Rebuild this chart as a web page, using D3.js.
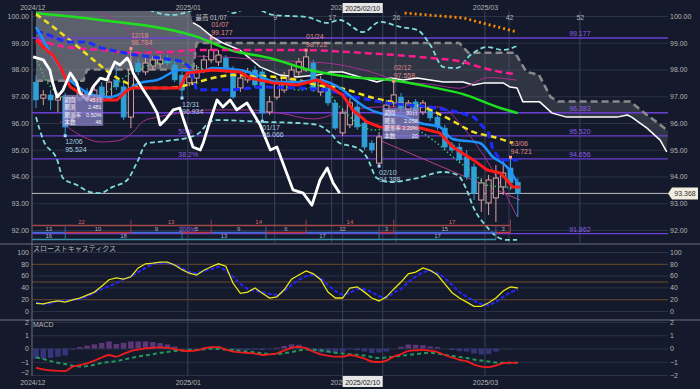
<!DOCTYPE html>
<html>
<head>
<meta charset="utf-8">
<script src="https://cdn.jsdelivr.net/npm/d3@7"></script>
<style>
  body { margin: 0; background: #141a2b; }
  svg { display: block; font-family: "Liberation Sans", Arial, sans-serif; }
</style>
</head>
<body>
<svg id="chart" width="700" height="389"></svg>
<script>
// ---- data (index = trading day from 2024/12/02) ----
// [open, high, low, close]
const candles = [
  [97.53, 97.79, 96.56, 96.86], [96.93, 97.23, 96.67, 97.05], [97.05, 97.23, 96.49, 96.86], [96.86, 97.16, 96.41, 96.97],
  [96.97, 97.12, 95.524, 95.85], [96.19, 97.01, 96.04, 96.93], [96.93, 97.31, 96.79, 97.16], [97.16, 97.31, 96.86, 97.01],
  [97.01, 97.42, 96.86, 97.23], [97.35, 97.53, 96.75, 96.86], [96.93, 97.68, 96.86, 97.53], [97.61, 98.17, 97.23, 97.35],
  [97.35, 97.53, 96.11, 96.22], [96.22, 98.784, 95.81, 97.98], [98.24, 98.43, 97.79, 97.91], [97.91, 98.43, 97.79, 98.24],
  [98.13, 98.50, 97.98, 98.36], [98.21, 98.54, 98.06, 98.36], [98.43, 98.54, 98.13, 98.24], [98.17, 98.36, 97.53, 97.61],
  [97.79, 97.91, 96.934, 97.23], [97.50, 97.91, 97.38, 97.72], [97.68, 98.17, 97.53, 97.98], [97.98, 98.54, 97.87, 98.36],
  [98.36, 99.177, 98.24, 98.73], [98.28, 98.73, 98.13, 98.54], [98.43, 98.54, 97.87, 97.98], [97.98, 98.13, 96.90, 96.97],
  [97.31, 97.83, 97.16, 97.68], [97.61, 98.06, 97.50, 97.91], [97.98, 98.13, 97.31, 97.42], [97.91, 98.06, 96.066, 96.37],
  [96.41, 97.01, 96.30, 96.79], [96.97, 97.68, 96.86, 97.50], [97.23, 97.91, 97.12, 97.72], [97.61, 98.13, 97.50, 97.98],
  [97.91, 98.43, 97.76, 98.28], [97.98, 98.722, 97.91, 98.47], [98.24, 98.36, 97.16, 97.23], [97.16, 97.76, 97.01, 97.61],
  [97.31, 97.46, 96.64, 96.75], [96.75, 96.86, 95.74, 95.81], [95.63, 96.56, 95.51, 96.37], [95.93, 96.93, 95.81, 96.75],
  [96.60, 96.86, 95.74, 95.85], [96.00, 96.11, 94.99, 95.10], [95.25, 95.36, 94.88, 94.99], [94.50, 95.66, 94.388, 95.48],
  [95.74, 96.86, 95.63, 96.67], [96.75, 97.558, 96.60, 97.05], [96.97, 97.12, 96.41, 96.56], [96.49, 96.86, 96.37, 96.75],
  [96.79, 96.90, 96.34, 96.49], [96.41, 96.86, 96.30, 96.75], [96.49, 96.64, 96.07, 96.19], [96.22, 96.37, 95.74, 95.85],
  [95.81, 95.93, 94.99, 95.10], [95.18, 95.29, 94.88, 94.99], [95.10, 95.25, 94.50, 94.62], [94.73, 94.99, 93.87, 93.98],
  [94.36, 94.50, 93.12, 93.38], [93.12, 93.94, 92.67, 93.76], [93.01, 94.06, 92.56, 93.87], [93.20, 94.43, 92.30, 93.94],
  [93.61, 94.62, 93.31, 94.13], [94.32, 94.721, 93.50, 93.76], [93.79, 93.94, 92.49, 93.368]
];
const lastPrice = 93.368;

// indicator lines: [index, price]
const smaLong = [[0,100.1],[8.8,99.85],[22.5,99.18],[26.6,98.73],[32,98.43],[37.5,97.98],[43,97.72],[48.5,97.61],[54,97.35],[58.5,97.08],[63.6,96.56],[66,96.37]];
const smaMid = [[0,100.07],[2.9,99.48],[5.6,98.88],[8.4,98.24],[10.5,97.79],[12.5,97.49],[14.7,97.31],[17.9,97.31],[20.7,97.42],[24.2,97.68],[27,97.79],[30.7,97.76],[35.8,97.61],[38.5,97.42],[41.6,97.31],[46.2,96.94],[49.5,96.75],[53,96.6],[56.3,96.19],[59.9,95.67],[63.2,95.44],[65.3,95.25]];
const kijun = [[0,99.38],[1,99.38],[4,99.03],[7,99.03],[9,98.8],[13,98.57],[17,98.43],[20,98.3],[21,98.1],[22,97.24],[27,97.24],[31,97.35],[36,97.31],[40,97.23],[43,97.0],[48,96.75],[54,96.6],[58,96.4],[60,96.22],[62,95.63],[62.6,95.0],[63.6,94.62],[66,94.62]];
const tenkan = [[0,99.1],[1,98.84],[2.3,98.54],[3.3,98.1],[4.7,97.35],[6,97.12],[7.4,96.86],[11.1,96.86],[12.5,97.23],[13.3,97.31],[19.7,97.31],[20.7,97.87],[24.2,97.98],[27.9,97.91],[29.3,97.68],[32.5,97.5],[35.8,97.42],[38.5,97.61],[40.3,97.35],[42,97.05],[43.4,96.49],[45.3,96.04],[47.1,95.85],[52.6,95.81],[55.3,95.63],[57.1,95.1],[59.9,94.62],[61.8,94.24],[63.6,94.13],[64.5,93.87],[65.3,93.61],[66.3,93.61]];
const emaShort = [[0,99.59],[1,99.1],[2.3,98.47],[4.2,97.72],[6,97.31],[7.8,97.05],[10.1,96.97],[12.5,97.23],[14.2,97.5],[16.6,97.61],[19.7,97.98],[22.5,97.91],[24.2,98.06],[27.9,97.98],[30.3,97.79],[33,97.53],[35.8,97.53],[38.5,97.61],[40.3,97.5],[42,97.24],[43.4,96.93],[45.3,96.56],[47.1,96.37],[50.8,96.22],[52.6,96.0],[55.3,95.85],[57.1,95.4],[60.8,95.25],[62.6,94.73],[64.5,94.36],[65.9,93.79]];
const smaPink = [[0,99.1],[4.2,98.84],[8.8,98.73],[13.3,98.62],[17.9,98.66],[22.5,98.73],[27,98.73],[35.8,98.73],[44.8,98.62],[54,98.43],[58.5,98.28],[60.8,98.09],[63.6,97.91],[65.6,97.83]];
const smaOrange = [[50.5,100.11],[58.5,99.93],[65.9,99.4]];
const dotGreen = [[0,98.47],[1.2,97.68],[2.9,97.12],[5.1,96.86],[7.4,96.86],[9.7,97.16],[12.5,97.79],[15.6,98.17],[18.8,98.28],[21.1,98.17],[23.8,97.98],[27.9,97.98],[32,97.61],[36.2,97.23],[38.9,97.42],[41.6,96.6],[46.2,95.74],[50.8,95.85],[54.4,95.36],[57.1,94.73],[59.9,94.13],[61.8,93.68],[63.6,93.61],[65.9,93.57]];
const bbUpper2 = [[10,101.2],[14.2,100.52],[15.6,100.22],[18.8,100.04],[20.7,100.15],[22.5,100.34],[24.8,100.49],[27,100.11],[29.3,100.34],[32.5,100.04],[37.1,99.96],[39.9,99.74],[41.6,99.85],[44.8,99.4],[47.1,99.78],[49.9,99.59],[52.2,99.48],[54,98.92],[55.8,98.09],[57.7,98.06],[59.5,98.54],[61.8,98.84],[64,98.73],[65.9,98.88]];
const bbLower2 = [[0,96.22],[1,95.36],[2.9,94.62],[3.7,93.94],[5.6,93.68],[7.4,93.42],[8.8,93.38],[10.5,93.61],[12.5,93.87],[13.8,94.5],[15.2,95.25],[16.6,95.29],[18.8,95.36],[20.7,95.44],[22.5,95.66],[23.6,96.0],[24.8,96.11],[31.1,96.04],[35.8,96.0],[38.5,95.93],[40.3,95.63],[41.6,95.25],[44,95.07],[45.3,94.73],[46.7,93.94],[48.5,93.79],[52.2,93.94],[55.8,94.17],[57.7,94.06],[59,93.5],[59.9,92.86],[61.8,92.11],[63.2,91.74],[64.5,91.63],[65.9,91.63]];
const bbUpper1 = [[8,100.3],[12,99.6],[15,98.9],[18,98.6],[22,98.5],[27,98.45],[31,98.35],[36,98.3],[41,98.2],[46,97.9],[50,97.55],[54,97.45],[58,97.3],[62,97.7],[65.9,97.6]];
const bbLower1 = [[3.3,96.07],[6.5,95.48],[8.8,95.29],[11.1,95.33],[13.3,95.66],[14.7,96.07],[16.6,96.22],[19.7,96.37],[24.2,96.49],[28.8,96.49],[33.4,96.37],[38,96.15],[42.3,96.45],[47.1,96.6],[51.2,96.6],[55.3,96.6],[58.6,95.8],[62.2,94.4],[65.9,92.5]];
const trendLine = [[47,95.36],[66.3,93.12]];
const spanA = [[0,100.3],[21,100.3],[21.5,99.75],[22.5,99.59],[24.2,99.21],[25.6,98.99],[27.9,98.73],[30.7,98.10],[33.4,97.79],[35.8,97.72],[38.5,97.79],[40.3,97.91],[42,97.91],[44.8,97.68],[46.7,97.53],[48.5,97.68],[50.3,97.61],[52.2,97.68],[54,97.61],[55.8,97.53],[58.5,97.53],[59.9,97.42],[61.5,97.5],[64,97.5],[64.9,97.35],[65.9,97.31],[66.7,96.79],[69,96.79],[70.7,96.37],[72.7,96.22],[79.6,96.22],[81,96.3],[81.6,96.22],[83.7,95.81],[85.5,95.36],[86.4,94.92]];
const spanB = [[0,97.58],[6.5,97.58],[7,98.0],[21.5,98.0],[22,98.99],[58,98.99],[59.2,98.63],[65.6,98.63],[67.2,97.91],[68.9,97.8],[70.5,96.97],[71.5,96.8],[81.4,96.8],[83.7,96.3],[85.4,95.96],[86.6,95.7]];
const chikou = [[-0.4,98.47],[1,98.36],[1.9,97.98],[2.3,97.5],[2.9,96.97],[3.7,97.23],[4.7,97.87],[5.6,97.5],[6,97.12],[7,96.86],[7.8,97.35],[8.8,97.68],[9.7,97.61],[10.1,97.87],[10.8,98.28],[11.5,98.17],[12.5,98.43],[12.9,98.24],[13.3,97.87],[14.7,97.23],[15.6,96.86],[16.6,96.37],[17,95.93],[17.7,96.11],[18.8,96.49],[19.7,96.56],[20.1,96.22],[20.7,95.74],[21.5,95.1],[22.5,94.99],[22.9,95.25],[23.8,96.04],[24.8,96.86],[25.6,96.6],[26.6,96.86],[27.5,96.49],[28.9,96.75],[30.7,95.93],[32.1,94.99],[33,95.1],[35.2,93.5],[36.6,93.38],[37.8,92.93],[38.9,93.87],[39.9,94.32],[40.7,93.76],[41.6,93.38]];

// fibonacci levels
const fibValues = [99.177, 96.383, 95.520, 94.656, 91.862];
const fibPct = ['0%', '', '50%', '38.2%', '100%'];

// swing highs / lows
const highs = [[13, 98.784, '12/18'], [24, 99.177, '01/07'], [37, 98.722, '01/24'], [49, 97.558, '02/12'], [65, 94.721, '03/06']];
const lows = [[4, 95.524, '12/06'], [20, 96.934, '12/31'], [31, 96.066, '01/17'], [47, 94.388, '02/10']];
const periodHigh = '最高 01/07';

// swing day counts: [from, to, label]
const countHighs = [[-0.5, 13, '22'], [13, 24, '13'], [24, 37, '14'], [37, 49, '14'], [49, 65, '17']];
const countLegs = [[-0.5, 4, '13'], [4, 13, '10'], [13, 20, '9'], [20, 24, '5'], [24, 31.5, '9'], [31.5, 37, '6'], [37, 47, '12'], [47, 49, '3'], [49, 63, '15'], [63, 65, '3']];
const countLows = [[-0.5, 4, '16'], [4, 20, '18'], [20, 31.5, '13'], [31.5, 47, '17'], [47, 63, '17']];

// range info boxes
const infoLabels = ['期間', '騰落', '騰落率', '本数'];
const info1 = ['45日', '2.481', '0.50%', '46'];
const info2 = ['30日', '2.058', '2.20%', '20'];

// slow stochastics
const stochK = [13,12,15,17,15,19,22,27,32,42,53,56,54,58,73,80,81,83,83,78,70,64,61,69,75,80,76,47,30,32,39,30,22,24,36,54,61,68,63,53,32,22,22,39,41,32,22,17,24,37,49,63,66,73,69,61,46,31,22,15,8,8,14,22,34,41,39];
const stochD = [14,12,13,17,17,19,20,25,31,37,42,47,54,58,66,73,80,81,81,78,73,66,64,68,71,75,69,58,46,37,34,32,29,27,34,44,53,59,61,56,44,34,27,31,37,37,32,25,22,31,37,49,58,66,68,64,56,44,32,24,17,12,10,15,24,32,36];

// MACD
const macd = [-1.44,-1.58,-1.65,-1.69,-1.7,-1.38,-1.25,-1.12,-0.92,-0.68,-0.49,-0.61,-0.4,-0.19,-0.08,0.01,0.05,0.09,0.04,-0.04,-0.15,-0.19,-0.14,0,0.11,0.1,-0.08,-0.24,-0.29,-0.34,-0.38,-0.49,-0.45,-0.36,-0.15,0.04,0.13,0,-0.23,-0.44,-0.54,-0.62,-0.62,-0.49,-0.61,-0.76,-0.98,-1.02,-0.91,-0.61,-0.42,-0.19,-0.14,-0.11,-0.17,-0.27,-0.49,-0.68,-0.85,-0.95,-1.21,-1.36,-1.4,-1.29,-1.1,-1.06,-1.08];
const signal = [-0.66,-0.8,-0.95,-1.08,-1.17,-1.3,-1.36,-1.33,-1.23,-1.1,-1.02,-0.95,-0.83,-0.72,-0.61,-0.52,-0.44,-0.32,-0.27,-0.19,-0.15,-0.12,-0.11,-0.06,-0.02,-0.04,-0.08,-0.11,-0.17,-0.23,-0.29,-0.36,-0.42,-0.42,-0.34,-0.27,-0.15,-0.08,-0.1,-0.14,-0.23,-0.32,-0.38,-0.44,-0.48,-0.53,-0.64,-0.72,-0.68,-0.61,-0.55,-0.49,-0.42,-0.36,-0.32,-0.38,-0.49,-0.57,-0.64,-0.72,-0.83,-0.91,-0.98,-1.06,-1.08,-1.08,-1.08];
const histo = [-0.78,-0.78,-0.7,-0.61,-0.53,-0.08,0.11,0.21,0.31,0.42,0.53,0.34,0.43,0.53,0.53,0.53,0.49,0.41,0.31,0.15,0,-0.07,-0.03,0.06,0.13,0.14,0,-0.13,-0.12,-0.11,-0.09,-0.13,-0.03,0.06,0.19,0.31,0.28,0.08,-0.13,-0.3,-0.31,-0.3,-0.24,-0.05,-0.13,-0.23,-0.34,-0.3,-0.23,0,0.13,0.3,0.28,0.25,0.15,0.11,0,-0.11,-0.21,-0.23,-0.38,-0.45,-0.42,-0.23,-0.02,0.02,0];

// time axis
const monthTicks = [-0.5, 20.8, 42, 61.5];
const monthLabels = ['2024/12', '2025/01', '2025/02', '2025/03'];
const numTicks = [32.7, 40.5, 49.3, 64.8, 74.5];
const numLabels = ['9', '17', '26', '42', '52'];
const cursorIndex = 47.5;
const cursorLabel = '2025/02/10';

const priceTicks = [92, 93, 94, 95, 96, 97, 98, 99, 100];
const stochTicks = [0, 20, 40, 60, 80, 100];
const macdTicks = [-2, -1, 0, 1, 2];

// ---- drawing ----
const svg = d3.select('#chart');
const left = 32, right = 668;
const textColor = '#b4b4b4';

const x = d3.scaleLinear().domain([0, 66]).range([36, 517.8]);
const y = d3.scaleLinear().domain([92, 100]).range([230, 16]);
const yS = d3.scaleLinear().domain([0, 100]).range([311, 252]);
const yM = d3.scaleLinear().domain([-2, 2]).range([375, 322]);
const step = x(1) - x(0);
const boxL = x(42), boxR = x(cursorIndex);

svg.append('rect').attr('width', 700).attr('height', 389).attr('fill', '#141a2b');

const defs = svg.append('defs');
defs.append('clipPath').attr('id', 'mainClip').append('rect')
  .attr('x', left).attr('y', 11).attr('width', right - left).attr('height', 232);
defs.append('clipPath').attr('id', 'cloudLight').append('rect')
  .attr('x', left).attr('y', 11).attr('width', x(25.6) - left).attr('height', 232);
defs.append('clipPath').attr('id', 'cloudDark').append('rect')
  .attr('x', x(25.6)).attr('y', 11).attr('width', right - x(25.6)).attr('height', 232);
// month labels are partly hidden behind the cursor date box
const mc = defs.append('clipPath').attr('id', 'monthClip');
mc.append('rect').attr('x', 0).attr('y', 0).attr('width', boxL).attr('height', 389);
mc.append('rect').attr('x', boxR).attr('y', 0).attr('width', 700 - boxR).attr('height', 389);

// horizontal grids
function hGrid(scale, ticks, color) {
  svg.append('g')
    .attr('transform', `translate(${left},0)`)
    .call(d3.axisRight(scale).tickValues(ticks).tickSize(right - left).tickFormat(''))
    .call(g => g.select('.domain').remove())
    .selectAll('line').attr('stroke', color).attr('stroke-width', 1);
}
hGrid(y, priceTicks, '#2a3246');
hGrid(yS, [0, 40, 60, 100], '#2a3246');
hGrid(yS, [20, 50, 80], '#6b4a2a');
hGrid(yM, macdTicks, '#2a3246');

// vertical grids
const mainV = monthTicks.slice(1).concat(numTicks, [cursorIndex]);
svg.append('g').selectAll('line').data(mainV).join('line')
  .attr('x1', d => x(d)).attr('x2', d => x(d)).attr('y1', 11).attr('y2', 243)
  .attr('stroke', '#39415a').attr('stroke-width', 1);
const subV = monthTicks.slice(1).concat([cursorIndex]);
svg.append('g').selectAll('line').data(subV).join('line')
  .attr('x1', d => x(d)).attr('x2', d => x(d)).attr('y1', 245).attr('y2', 376)
  .attr('stroke', '#39415a').attr('stroke-width', 1);

// separators
[[0, 700, 244, 244], [0, 700, 320, 320], [left, left, 11, 376]].forEach(s => {
  svg.append('line').attr('x1', s[0]).attr('x2', s[1]).attr('y1', s[2]).attr('y2', s[3])
    .attr('stroke', '#6c7080').attr('stroke-width', 1);
});

// axis labels
function axisText(axis, tx, fmt, ticks, scale) {
  const g = svg.append('g').attr('transform', `translate(${tx},0)`)
    .call(axis(scale).tickValues(ticks).tickSize(0).tickPadding(2).tickFormat(fmt));
  g.select('.domain').remove();
  g.selectAll('text').attr('fill', textColor).style('font-size', '7px')
    .style('font-family', '"Liberation Sans", Arial, sans-serif');
}
axisText(d3.axisLeft, 31, d3.format('.2f'), priceTicks, y);
axisText(d3.axisRight, 668, d3.format('.2f'), priceTicks, y);
axisText(d3.axisLeft, 31, d3.format('d'), stochTicks, yS);
axisText(d3.axisRight, 668, d3.format('d'), stochTicks, yS);
axisText(d3.axisLeft, 31, d3.format('d'), macdTicks.slice(1), yM);
axisText(d3.axisRight, 668, d3.format('d'), macdTicks, yM);
// lowest MACD label sits just above the date row
svg.append('text').attr('x', 29).attr('y', yM(-2) - 0.5).attr('text-anchor', 'end')
  .attr('fill', textColor).style('font-size', '7px').text(d3.format('d')(macdTicks[0]));

// time labels top & bottom
[9.5, 384.5].forEach(ty => {
  const g = svg.append('g').attr('clip-path', 'url(#monthClip)')
    .append('g').attr('transform', `translate(0,${ty})`)
    .call(d3.axisTop(x).tickValues(monthTicks).tickSize(0).tickPadding(0).tickFormat((d, i) => monthLabels[i]));
  g.select('.domain').remove();
  g.selectAll('text').attr('fill', textColor).style('font-size', '7px');
});
const gNum = svg.append('g').attr('transform', 'translate(0,20)')
  .call(d3.axisTop(x).tickValues(numTicks).tickSize(0).tickPadding(0).tickFormat((d, i) => numLabels[i]));
gNum.select('.domain').remove();
gNum.selectAll('text').attr('fill', textColor).style('font-size', '7px');
svg.append('text').attr('x', x(24)).attr('y', 20).attr('text-anchor', 'middle')
  .attr('fill', '#c8c8c8').style('font-size', '6.5px')
  .style('font-family', '"Noto Sans CJK JP", sans-serif').text(periodHigh);

// cursor date boxes
[[3, 13], [376, 387]].forEach(([t, b]) => {
  svg.append('rect').attr('x', boxL).attr('y', t).attr('width', boxR - boxL).attr('height', b - t)
    .attr('fill', '#e6e6e6');
  svg.append('text').attr('x', (boxL + boxR) / 2).attr('y', b - 2.5)
    .attr('text-anchor', 'middle').attr('fill', '#222').style('font-size', '7px').text(cursorLabel);
});

// ---- main panel ----
const main = svg.append('g').attr('clip-path', 'url(#mainClip)');
const line = d3.line().x(d => x(d[0])).y(d => y(d[1]));
const smooth = d3.line().x(d => x(d[0])).y(d => y(d[1])).curve(d3.curveMonotoneX);

// cloud
const cloud = line(spanA.concat(spanB.slice().reverse())) + 'Z';
main.append('path').attr('d', cloud).attr('fill', '#a4a6ae').attr('fill-opacity', 0.5)
  .attr('clip-path', 'url(#cloudLight)');
main.append('path').attr('d', cloud).attr('fill', '#5c606c').attr('fill-opacity', 0.38)
  .attr('clip-path', 'url(#cloudDark)');

function draw(data, gen, color, width, dash) {
  main.append('path').datum(data).attr('fill', 'none').attr('stroke', color)
    .attr('stroke-width', width).attr('stroke-dasharray', dash || null)
    .attr('stroke-linejoin', 'round').attr('d', gen);
}

// fibonacci
main.append('g').selectAll('line').data(fibValues).join('line')
  .attr('x1', left).attr('x2', right).attr('y1', d => y(d)).attr('y2', d => y(d))
  .attr('stroke', '#6b3fd6').attr('stroke-width', 1.3);
main.append('g').selectAll('text').data(fibValues).join('text')
  .attr('x', x(74.5)).attr('y', d => y(d) - 2).attr('text-anchor', 'middle')
  .attr('fill', '#8e5ce6').style('font-size', '7px').text(d => d3.format('.3f')(d));
main.append('g').selectAll('text').data(fibValues).join('text')
  .attr('x', x(19.5)).attr('y', d => y(d) - 2)
  .attr('fill', '#8e5ce6').style('font-size', '7px').text((d, i) => fibPct[i]);

// current price line
main.append('line').attr('x1', left).attr('x2', right).attr('y1', y(lastPrice)).attr('y2', y(lastPrice))
  .attr('stroke', '#bdbdbd').attr('stroke-width', 1);

draw(spanB, line, '#8a8a8a', 2.5, '7,4');
draw(spanA.slice(2), line, '#ffffff', 1.5);
draw(bbUpper1, smooth, '#a5308f', 1);
draw(bbLower1, smooth, '#a5308f', 1);
draw(trendLine, line, '#b0408f', 1);
draw(bbUpper2, smooth, '#7fdcdc', 1.8, '5,3');
draw(bbLower2, smooth, '#7fdcdc', 1.8, '5,3');

// candles
const cg = main.append('g');
candles.forEach((c, i) => {
  const up = c[3] >= c[0];
  const col = up ? '#d7a3a0' : '#2f9fd6';
  cg.append('line').attr('x1', x(i)).attr('x2', x(i)).attr('y1', y(c[1])).attr('y2', y(c[2]))
    .attr('stroke', col).attr('stroke-width', 1);
  cg.append('rect').attr('x', x(i) - step * 0.35).attr('width', step * 0.7)
    .attr('y', y(Math.max(c[0], c[3]))).attr('height', Math.max(1, Math.abs(y(c[0]) - y(c[3]))))
    .attr('fill', up ? '#141a2b' : col).attr('stroke', col).attr('stroke-width', up ? 1 : 0.5);
});

draw(dotGreen, smooth, '#2ecc71', 1.4, '1.5,2.5');
draw(smaLong, smooth, '#1fe01f', 2.5);
draw(smaPink, smooth, '#ff1b8d', 2.5, '7,4');
draw(smaOrange, line, '#ff8c00', 2.8, '2,3');
draw(smaMid, smooth, '#f2e21c', 2.5, '6,4');
draw(kijun, line, '#1a2cff', 3, '7,4');
draw(emaShort, smooth, '#1e90ff', 2.5);
draw(tenkan, line, '#ff1a1a', 3);
draw(chikou, line, '#ffffff', 2.8);

// swing markers and labels
function swing(data, isHigh) {
  const col = isHigh ? '#e08a8a' : '#a9cbe0';
  data.forEach(([i, v, d]) => {
    main.append('rect').attr('x', x(i) - 1.5).attr('y', y(v) - 1.5).attr('width', 3).attr('height', 3)
      .attr('fill', isHigh ? '#ff9090' : '#a6dcff');
    const b1 = isHigh ? y(v) - 11 : y(v) + 8.5;
    [d, d3.format('.3f')(v)].forEach((t, k) => {
      main.append('text').attr('x', x(i)).attr('y', b1 + k * 7.5)
        .attr('fill', col).style('font-size', '7px').text(t);
    });
  });
}
swing(highs, true);
swing(lows, false);

// info boxes
function infoBox(i0, i1, top, values) {
  const bx = x(i0), bw = x(i1) - x(i0), by = y(top);
  main.append('rect').attr('x', bx).attr('y', by).attr('width', bw).attr('height', 31)
    .attr('fill', '#8f86d0').attr('fill-opacity', 0.72);
  infoLabels.forEach((l, k) => {
    main.append('text').attr('x', bx + 1.5).attr('y', by + 7 + k * 7.5).attr('fill', '#f4f4f4')
      .style('font-size', '5.5px').style('font-family', '"Noto Sans CJK JP", sans-serif').text(l);
    main.append('text').attr('x', bx + bw - 1.5).attr('y', by + 7 + k * 7.5).attr('text-anchor', 'end')
      .attr('fill', '#f4f4f4').style('font-size', '5.5px').text(values[k]);
  });
}
infoBox(3.7, 9.2, 97.05, info1);
infoBox(47.5, 52.5, 96.56, info2);

// swing counts rows
function countRow(rows, ly, colorFn, textCol) {
  const g = main.append('g');
  rows.forEach(([a, b, t], k) => {
    const c = colorFn(k);
    g.append('line').attr('x1', x(a)).attr('x2', x(b)).attr('y1', ly).attr('y2', ly)
      .attr('stroke', c).attr('stroke-width', 1.5);
    g.append('line').attr('x1', x(b)).attr('x2', x(b)).attr('y1', ly - 6).attr('y2', ly)
      .attr('stroke', c).attr('stroke-width', 0.8);
    g.append('text').attr('x', (x(a) + x(b)) / 2).attr('y', ly - 1.5).attr('text-anchor', 'middle')
      .attr('fill', textCol || c).style('font-size', '6px').text(t);
  });
}
countRow(countHighs, 225.5, () => '#a44848', '#d46a6a');
countRow(countLegs, 232.5, k => (k % 2 ? '#c23b3b' : '#3f6fd0'), '#a8a8c0');
countRow(countLows, 239.5, () => '#3a92aa', '#9ab8c8');

// current price tag
svg.append('path').attr('d', `M${right},${y(lastPrice)} l4,-6 h26 v12 h-26 z`).attr('fill', '#f2ede0');
svg.append('text').attr('x', right + 17).attr('y', y(lastPrice) + 2.5).attr('text-anchor', 'middle')
  .attr('fill', '#333').style('font-size', '7px').text(d3.format('.3f')(lastPrice));

// ---- stochastics ----
svg.append('text').attr('x', 33).attr('y', 251).attr('fill', textColor).style('font-size', '7px')
  .style('font-family', '"Noto Sans CJK JP", sans-serif').text('スローストキャスティクス');
const sLine = d3.line().x((d, i) => x(i)).y(d => yS(d));
svg.append('path').datum(stochD).attr('fill', 'none').attr('stroke', '#2424ff').attr('stroke-width', 2)
  .attr('stroke-dasharray', '4,2').attr('d', sLine);
svg.append('path').datum(stochK).attr('fill', 'none').attr('stroke', '#e8e81a').attr('stroke-width', 1.3)
  .attr('d', sLine);

// ---- MACD ----
svg.append('text').attr('x', 33).attr('y', 327).attr('fill', textColor).style('font-size', '7px').text('MACD');
svg.append('g').selectAll('rect').data(histo).join('rect')
  .attr('x', (d, i) => x(i) - step * 0.38).attr('width', step * 0.76)
  .attr('y', d => Math.min(yM(0), yM(d))).attr('height', d => Math.abs(yM(d) - yM(0)))
  .attr('fill', d => (d >= 0 ? '#6a3c86' : '#3a3a86')).attr('fill-opacity', 0.85);
const mLine = d3.line().x((d, i) => x(i)).y(d => yM(d)).curve(d3.curveMonotoneX);
svg.append('path').datum(signal).attr('fill', 'none').attr('stroke', '#1f9a5a').attr('stroke-width', 2)
  .attr('stroke-dasharray', '4,3').attr('d', mLine);
svg.append('path').datum(macd).attr('fill', 'none').attr('stroke', '#ee1c1c').attr('stroke-width', 1.8)
  .attr('d', mLine);
</script>
</body>
</html>
